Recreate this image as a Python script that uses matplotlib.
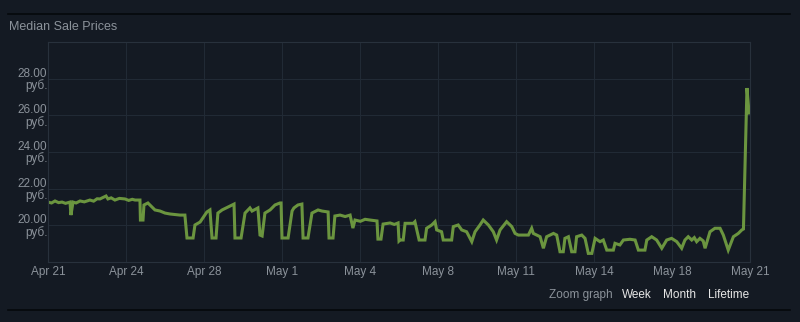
import numpy as np
import matplotlib
matplotlib.use('Agg')
import matplotlib.pyplot as plt

plt.rcParams['font.family'] = ['Liberation Sans', 'DejaVu Sans']

# days since Apr 21, median price in руб.
days = [0.00, 0.15, 0.30, 0.45, 0.60, 0.75, 0.94, 0.98, 1.07, 1.20, 1.37, 1.55, 1.79, 1.95, 2.10, 2.22,
        2.35, 2.48, 2.56, 2.70, 2.86, 3.05, 3.29, 3.45, 3.60, 3.72, 3.93,
        3.95, 4.06, 4.10, 4.27, 4.44, 4.57, 4.79, 5.00, 5.21, 5.64, 5.85, 5.94, 6.20, 6.28, 6.50,
        6.79, 6.92, 7.01, 7.18, 7.26, 7.44, 7.69, 7.86, 7.95, 7.99, 8.25, 8.42, 8.63, 8.72, 8.97,
        9.06, 9.15, 9.27, 9.49, 9.70, 9.91, 9.96, 10.00, 10.26, 10.43, 10.51, 10.68, 10.85, 10.90,
        11.11, 11.28, 11.54, 11.71, 11.97, 12.01, 12.18, 12.26, 12.48, 12.70, 12.91, 13.03, 13.12,
        13.35, 13.55, 13.76, 14.06, 14.10, 14.23, 14.32, 14.62, 14.80, 14.96, 15.00,
        15.04, 15.18, 15.26, 15.61, 15.68, 15.86, 16.11, 16.18, 16.40, 16.54, 16.61, 16.82, 16.89,
        17.25, 17.32, 17.53, 17.68, 17.89, 18.11, 18.25, 18.46, 18.60, 18.82, 19.03, 19.17, 19.32,
        19.60, 19.82, 19.96, 20.10, 20.53, 20.67, 20.74, 21.03, 21.17, 21.31, 21.60, 21.74, 21.88,
        22.02, 22.09, 22.24, 22.38, 22.52, 22.59, 22.81, 22.95, 23.09, 23.24, 23.38, 23.59, 23.73,
        23.88, 24.16, 24.23, 24.44, 24.59, 24.87, 25.09, 25.23, 25.51, 25.59, 25.80, 26.01, 26.23,
        26.44, 26.65, 26.87, 27.08, 27.22, 27.36, 27.51, 27.62, 27.72, 27.86, 28.00, 28.08, 28.29,
        28.50, 28.72, 28.86, 29.07, 29.29, 29.50, 29.65, 29.72, 29.87, 29.96]
prices = [21.27, 21.22, 21.33, 21.24, 21.27, 21.20, 21.27, 20.56, 21.27, 21.22, 21.33, 21.28, 21.38, 21.32, 21.45, 21.44,
          21.52, 21.60, 21.44, 21.50, 21.38, 21.47, 21.44, 21.36, 21.42, 21.38, 21.38,
          20.29, 20.29, 21.11, 21.22, 21.00, 20.84, 20.78, 20.67, 20.62, 20.56, 20.56, 19.31, 19.31, 20.02, 20.18,
          20.73, 20.84, 19.31, 19.31, 20.67, 20.84, 21.00, 21.11, 21.16, 19.31, 19.31, 20.67, 20.95, 20.78, 20.95,
          19.47, 19.42, 20.67, 20.84, 21.11, 21.22, 21.22, 19.31, 19.31, 20.78, 20.95, 21.11, 21.16, 19.31,
          19.31, 20.67, 20.84, 20.78, 20.73, 19.31, 19.31, 20.51, 20.56, 20.48, 20.56, 19.85, 20.29,
          20.22, 20.33, 20.29, 20.24, 19.25, 19.25, 20.07, 20.13, 20.05, 20.13, 19.15,
          19.20, 19.20, 20.11, 20.11, 20.20, 19.20, 19.20, 19.84, 20.02, 20.20, 19.75, 19.65, 19.20,
          19.20, 19.93, 20.02, 19.75, 19.65, 19.11, 19.65, 20.02, 20.29, 20.02, 19.65, 19.20, 19.75,
          20.20, 19.93, 19.56, 19.47, 19.47, 19.84, 19.56, 19.38, 18.75, 19.38, 19.56, 19.47, 18.56,
          18.56, 19.29, 19.38, 18.56, 18.56, 19.38, 19.47, 19.29, 18.47, 18.47, 19.29, 19.11, 19.20,
          18.65, 18.65, 19.02, 18.93, 19.20, 19.24, 19.20, 18.65, 18.65, 19.20, 19.38, 19.20, 18.75,
          19.20, 19.29, 19.11, 18.75, 19.20, 19.38, 19.20, 19.33, 19.11, 19.29, 19.15, 18.75, 19.65,
          19.84, 19.84, 19.47, 18.65, 19.38, 19.56, 19.75, 19.80, 27.49, 26.13]

xtick_labels = ['Apr 21', 'Apr 24', 'Apr 28', 'May 1', 'May 4', 'May 8', 'May 11', 'May 14', 'May 18', 'May 21']
ytick_values = [20, 22, 24, 26, 28]

bg = '#141a23'
grid_c = '#212a35'
txt = '#8b929a'

fig = plt.figure(figsize=(8, 3.22), dpi=100, facecolor=bg)
ax = fig.add_axes([0.06, 0.1863, 0.8775, 0.6832], facecolor=bg)

ax.plot(days, prices, color='#6b953f', linewidth=2.2, solid_joinstyle='miter')

ax.set_xlim(0, 30)
ax.set_ylim(18, 30)
ax.set_xticks(np.linspace(0, 30, len(xtick_labels)))
ax.set_xticklabels(xtick_labels)
ax.set_yticks(ytick_values)
ax.set_yticklabels(['%.2f\nруб.' % v for v in ytick_values], linespacing=0.95, ha='right')
ax.tick_params(axis='both', length=0, colors=txt, labelsize=8.5)
ax.tick_params(axis='x', pad=3)
ax.tick_params(axis='y', pad=0.5)
ax.grid(True, color=grid_c, linewidth=0.8)
for s in ax.spines.values():
    s.set_color('#28313c')
    s.set_linewidth(0.8)

fig.text(9 / 800, 1 - 27 / 322, 'Median Sale Prices', color=txt, fontsize=9, va='center', ha='left')
fig.text(613 / 800, 1 - 295 / 322, 'Zoom graph', color=txt, fontsize=8.5, va='center', ha='right')
fig.text(622 / 800, 1 - 295 / 322, 'Week', color='#e6e6e6', fontsize=8.5, va='center', ha='left')
fig.text(663 / 800, 1 - 295 / 322, 'Month', color='#e6e6e6', fontsize=8.5, va='center', ha='left')
fig.text(708 / 800, 1 - 295 / 322, 'Lifetime', color='#e6e6e6', fontsize=8.5, va='center', ha='left')

# separator lines above and below the widget
fig.add_artist(plt.Line2D([8 / 800, 790 / 800], [1 - 13.5 / 322] * 2, color='#05080b', linewidth=1.2))
fig.add_artist(plt.Line2D([8 / 800, 790 / 800], [1 - 310 / 322] * 2, color='#05080b', linewidth=1.2))

fig.savefig('out.png', dpi=100, facecolor=bg)
